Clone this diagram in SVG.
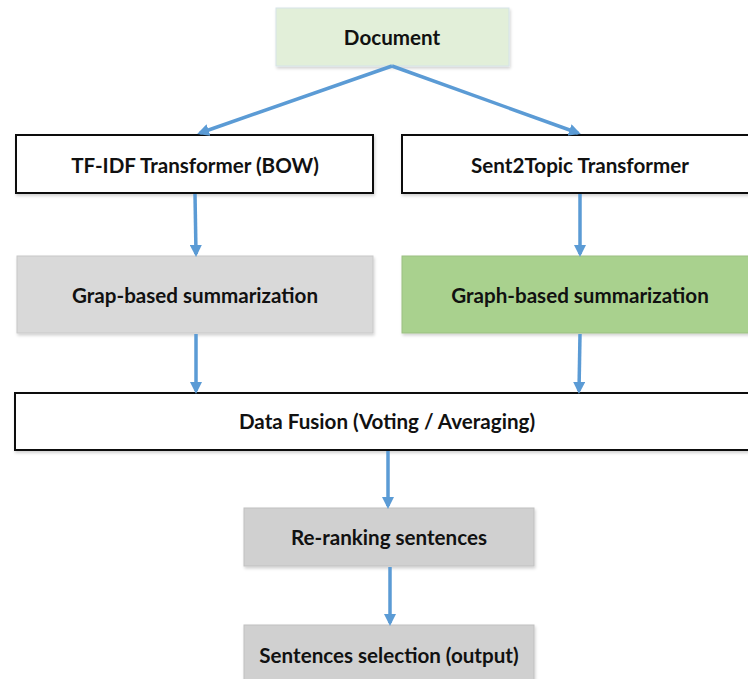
<svg xmlns="http://www.w3.org/2000/svg" width="748" height="679" viewBox="0 0 748 679">
<defs>
<marker id="ah" markerWidth="12" markerHeight="12" refX="9" refY="6" orient="auto" markerUnits="userSpaceOnUse">
<path d="M0,0 L12,6 L0,12 Z" fill="#5b9bd5"/>
</marker>
<filter id="sh" x="-5%" y="-10%" width="110%" height="130%">
<feDropShadow dx="1" dy="2" stdDeviation="1.5" flood-color="#000" flood-opacity="0.18"/>
</filter>
<style>
.t{font-family:Lato,"Open Sans","Liberation Sans",sans-serif;font-weight:bold;font-size:20.6px;fill:#111;text-anchor:middle;dominant-baseline:central}
.c{stroke:#5b9bd5;stroke-width:3.5;fill:none;marker-end:url(#ah)}
.wb{fill:#fff;stroke:#111;stroke-width:2}
</style>
</defs>
<rect width="748" height="679" fill="#fff"/>
<g id="document"><rect x="276" y="8" width="233" height="58" fill="#e2efd9" stroke="#d5e3e8" stroke-width="1" filter="url(#sh)"/><text class="t" x="392" y="37">Document</text></g>
<g id="tfidf"><rect class="wb" x="16" y="135" width="357" height="58" filter="url(#sh)"/><text class="t" x="195" y="165">TF-IDF Transformer (BOW)</text></g>
<g id="sent2topic"><rect class="wb" x="402" y="135" width="350" height="58" filter="url(#sh)"/><text class="t" x="580" y="165">Sent2Topic Transformer</text></g>
<g id="grap"><rect x="17" y="256" width="356" height="77" fill="#d9d9d9" stroke="#c8c8c8" stroke-width="1" filter="url(#sh)"/><text class="t" x="195" y="295">Grap-based summarization</text></g>
<g id="graph"><rect x="402" y="256" width="350" height="77" fill="#a9d18e" stroke="#9bbf82" stroke-width="1" filter="url(#sh)"/><text class="t" x="580" y="295">Graph-based summarization</text></g>
<g id="fusion"><rect class="wb" x="15" y="393" width="740" height="57" filter="url(#sh)"/><text class="t" x="387" y="421">Data Fusion (Voting / Averaging)</text></g>
<g id="rerank"><rect x="244" y="508" width="290" height="58" fill="#d0d0d0" stroke="#c0c0c0" stroke-width="1" filter="url(#sh)"/><text class="t" x="389" y="537">Re-ranking sentences</text></g>
<g id="selection"><rect x="244" y="625" width="290" height="60" fill="#d0d0d0" stroke="#c0c0c0" stroke-width="1" filter="url(#sh)"/><text class="t" x="389" y="655">Sentences selection (output)</text></g>
<g id="connectors">
<path class="c" d="M392,66 L200,133"/>
<path class="c" d="M392,66 L578,133"/>
<path class="c" d="M195,194 L196,254"/>
<path class="c" d="M580,194 L580,254"/>
<path class="c" d="M196,334 L196,391"/>
<path class="c" d="M580,334 L579,391"/>
<path class="c" d="M388,451 L388,506"/>
<path class="c" d="M390,567 L390,623"/>
</g>
</svg>
